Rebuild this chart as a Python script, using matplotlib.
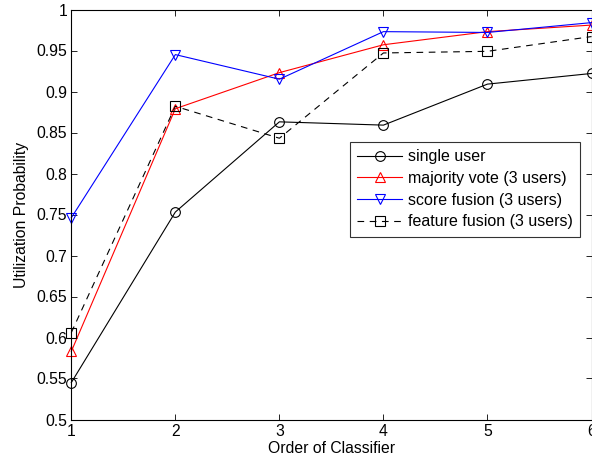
import matplotlib
matplotlib.use("Agg")
import matplotlib.pyplot as plt

plt.rcParams['font.family'] = ['Liberation Sans', 'DejaVu Sans']

order = [1, 2, 3, 4, 5, 6]
single_user = [0.545, 0.753, 0.863, 0.859, 0.909, 0.922]
majority_vote = [0.583, 0.879, 0.923, 0.957, 0.973, 0.981]
score_fusion = [0.746, 0.945, 0.915, 0.973, 0.972, 0.984]
feature_fusion = [0.606, 0.882, 0.843, 0.947, 0.949, 0.967]

fig = plt.figure(figsize=(5.92, 4.63), dpi=100)
ax = fig.add_axes([71.3 / 592, 1 - 419.5 / 463, (591.5 - 71.3) / 592, (419.5 - 9.5) / 463])

ms = 7
ax.plot(order, single_user, color='black', lw=0.8, marker='o', ms=ms,
        mfc='none', mec='black', mew=0.8, label='single user', clip_on=False)
ax.plot(order, majority_vote, color='red', lw=0.8, marker='^', ms=ms,
        mfc='none', mec='red', mew=0.8, label='majority vote (3 users)', clip_on=False)
ax.plot(order, score_fusion, color='blue', lw=0.8, marker='v', ms=ms,
        mfc='none', mec='blue', mew=0.8, label='score fusion (3 users)', clip_on=False)
ax.plot(order, feature_fusion, color='black', lw=0.8, ls=(0, (6, 5)), marker='s', ms=ms,
        mfc='none', mec='black', mew=0.8, label='feature fusion (3 users)', clip_on=False)

ax.set_xlim(1, 6)
ax.set_ylim(0.5, 1.0)
ax.set_xticks(order)
ax.set_xticklabels([str(v) for v in order])
yt = [0.5, 0.55, 0.6, 0.65, 0.7, 0.75, 0.8, 0.85, 0.9, 0.95, 1.0]
ax.set_yticks(yt)
ax.set_yticklabels(['0.5', '0.55', '0.6', '0.65', '0.7', '0.75', '0.8', '0.85', '0.9', '0.95', '1'])
ax.tick_params(direction='in', top=True, right=True, length=4, width=0.6,
               labelsize=11.3, pad=3)
for s in ax.spines.values():
    s.set_linewidth(0.8)

ax.set_xlabel('Order of Classifier', fontsize=11.3, labelpad=2)
ax.set_ylabel('Utilization Probability', fontsize=11.3, labelpad=5)

leg = ax.legend(loc='upper left', bbox_to_anchor=((350 - 71.3) / 520.2, 1 - (142 - 9.5) / 410),
                fontsize=11.5, frameon=True, fancybox=False, edgecolor='black',
                borderpad=0.45, labelspacing=0.42, handlelength=2.8, handletextpad=0.4,
                borderaxespad=0)
leg.get_frame().set_linewidth(0.8)

fig.savefig('out.png', dpi=100)
